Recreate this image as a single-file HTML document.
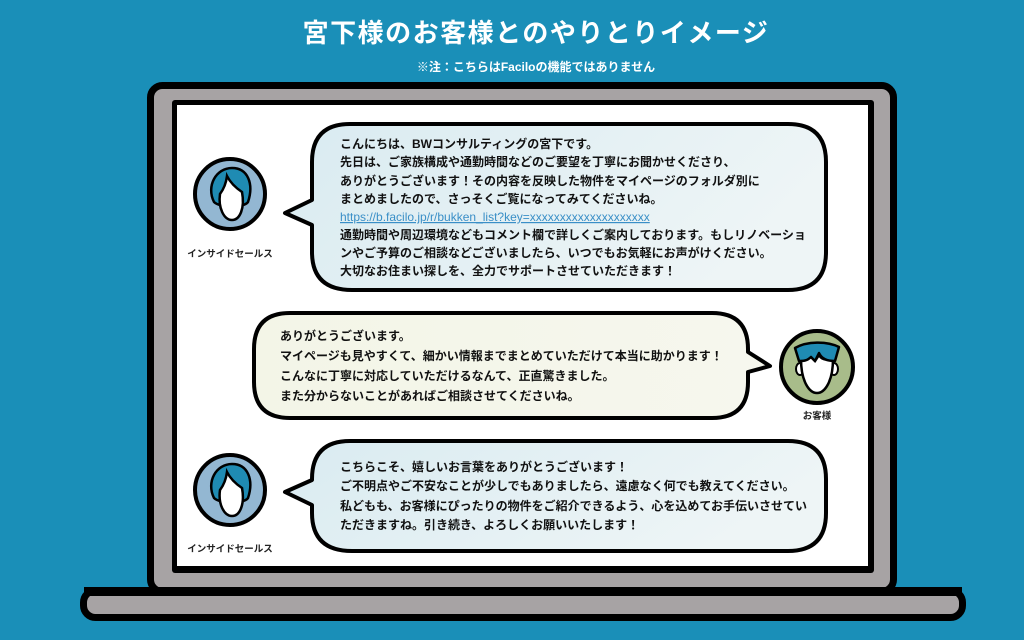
<!DOCTYPE html>
<html><head><meta charset="utf-8"><style>
html,body{margin:0;padding:0;}
body{width:1024px;height:640px;overflow:hidden;background:#1a8fb8;font-family:"Liberation Sans","Noto Sans CJK JP",sans-serif;}
svg{display:block}
.t{font-size:12px;font-weight:bold;fill:#111;}
.lbl{font-size:9.5px;font-weight:bold;fill:#222;}
</style></head><body>
<svg width="1024" height="640" viewBox="0 0 1024 640" xmlns="http://www.w3.org/2000/svg">
<defs>
<linearGradient id="g1" x1="0" y1="0" x2="1" y2="0.3"><stop offset="0" stop-color="#d9ebf1"/><stop offset="1" stop-color="#eef5f6"/></linearGradient>
<linearGradient id="g2" x1="0" y1="0" x2="1" y2="0"><stop offset="0" stop-color="#f3f5e7"/><stop offset="1" stop-color="#f6f7ee"/></linearGradient>
</defs>
<text x="536" y="42" text-anchor="middle" font-size="26" font-weight="bold" fill="#fff" letter-spacing="1.5">宮下様のお客様とのやりとりイメージ</text>
<text x="536" y="71" text-anchor="middle" font-size="12" font-weight="bold" fill="#fff">※注：こちらはFaciloの機能ではありません</text>
<!-- laptop -->
<rect x="150.5" y="85.5" width="743" height="506" rx="12" fill="#a7a3a4" stroke="#000" stroke-width="7"/>
<rect x="83.5" y="590.5" width="879" height="27" rx="12" fill="#a7a3a4" stroke="#000" stroke-width="7"/>
<rect x="84" y="587" width="878" height="9" fill="#000"/>
<rect x="172" y="100" width="702" height="473" rx="3" fill="#000"/>
<rect x="177" y="105" width="691" height="461" fill="#fff"/>
<!-- bubble 1 -->
<path d="M350 124 H788 Q826 124 826 162 V252 Q826 290 788 290 H352 Q312 290 312 252 V225 L285 213 L312 200 V162 Q312 124 350 124 Z" fill="url(#g1)" stroke="#000" stroke-width="4" stroke-linejoin="round"/>
<g class="t">
<text x="340" y="148">こんにちは、BWコンサルティングの宮下です。</text>
<text x="340" y="166">先日は、ご家族構成や通勤時間などのご要望を丁寧にお聞かせくださり、</text>
<text x="340" y="185">ありがとうございます！その内容を反映した物件をマイページのフォルダ別に</text>
<text x="340" y="203">まとめましたので、さっそくご覧になってみてくださいね。</text>
<text x="340" y="221" style="fill:#3a8fc7;font-weight:normal" text-decoration="underline">https://b.facilo.jp/r/bukken_list?key=xxxxxxxxxxxxxxxxxxxx</text>
<text x="340" y="239">通勤時間や周辺環境などもコメント欄で詳しくご案内しております。もしリノベーショ</text>
<text x="340" y="257">ンやご予算のご相談などございましたら、いつでもお気軽にお声がけください。</text>
<text x="340" y="275">大切なお住まい探しを、全力でサポートさせていただきます！</text>
</g>
<!-- bubble 2 -->
<path d="M290 313 H712 Q748 313 748 349 V352 L770 366 L748 372 V382 Q748 418 712 418 H290 Q254 418 254 382 V349 Q254 313 290 313 Z" fill="url(#g2)" stroke="#000" stroke-width="4" stroke-linejoin="round"/>
<g class="t">
<text x="280" y="340">ありがとうございます。</text>
<text x="280" y="360">マイページも見やすくて、細かい情報までまとめていただけて本当に助かります！</text>
<text x="280" y="380">こんなに丁寧に対応していただけるなんて、正直驚きました。</text>
<text x="280" y="400">また分からないことがあればご相談させてくださいね。</text>
</g>
<!-- bubble 3 -->
<path d="M350 441 H788 Q826 441 826 479 V513 Q826 551 788 551 H352 Q312 551 312 513 V505 L285 492 L312 480 V479 Q312 441 350 441 Z" fill="url(#g1)" stroke="#000" stroke-width="4" stroke-linejoin="round"/>
<g class="t">
<text x="340" y="471">こちらこそ、嬉しいお言葉をありがとうございます！</text>
<text x="340" y="490">ご不明点やご不安なことが少しでもありましたら、遠慮なく何でも教えてください。</text>
<text x="340" y="510">私どもも、お客様にぴったりの物件をご紹介できるよう、心を込めてお手伝いさせてい</text>
<text x="340" y="529">ただきますね。引き続き、よろしくお願いいたします！</text>
</g>
<!-- avatar sales 1 -->
<g transform="translate(230,194)">
<circle r="35" fill="#93b7d2" stroke="#000" stroke-width="4"/>
<path d="M-16 8 C-24 -8 -14 -26 2 -26 C18 -26 24 -10 18 8 C14 14 -10 14 -16 8 Z" fill="#1f8bb3" stroke="#000" stroke-width="2.5"/>
<path d="M-10 0 C-12 14 -6 26 2 26 C10 26 15 14 12 -2 C6 -6 0 -12 -3 -18 C-4 -10 -7 -4 -10 0 Z" fill="#fff" stroke="#000" stroke-width="2.5"/>
</g>
<text x="230" y="257" text-anchor="middle" class="lbl">インサイドセールス</text>
<!-- avatar sales 2 -->
<g transform="translate(230,490)">
<circle r="35" fill="#93b7d2" stroke="#000" stroke-width="4"/>
<path d="M-16 8 C-24 -8 -14 -26 2 -26 C18 -26 24 -10 18 8 C14 14 -10 14 -16 8 Z" fill="#1f8bb3" stroke="#000" stroke-width="2.5"/>
<path d="M-10 0 C-12 14 -6 26 2 26 C10 26 15 14 12 -2 C6 -6 0 -12 -3 -18 C-4 -10 -7 -4 -10 0 Z" fill="#fff" stroke="#000" stroke-width="2.5"/>
</g>
<text x="230" y="552" text-anchor="middle" class="lbl">インサイドセールス</text>
<!-- customer -->
<g transform="translate(817,367)">
<circle r="36" fill="#a8bc8a" stroke="#000" stroke-width="4"/>
<ellipse cx="-17" cy="2" rx="4" ry="6" fill="#fff" stroke="#000" stroke-width="2"/>
<ellipse cx="17" cy="2" rx="4" ry="6" fill="#fff" stroke="#000" stroke-width="2"/>
<path d="M-16 -8 C-16 14 -8 26 0 26 C8 26 16 14 16 -8 C8 -6 4 -8 2 -12 L-2 -6 L-6 -10 C-10 -8 -12 -8 -16 -8 Z" fill="#fff" stroke="#000" stroke-width="2.5"/>
<path d="M-22 -19 C-10 -26 10 -26 22 -20 L18 -6 C10 -6 5 -8 2 -14 L-2 -6 L-6 -10 C-10 -6 -14 -6 -18 -6 Z" fill="#1f8bb3" stroke="#000" stroke-width="2.5" stroke-linejoin="round"/>
</g>
<text x="817" y="419" text-anchor="middle" class="lbl">お客様</text>
</svg>
</body></html>
